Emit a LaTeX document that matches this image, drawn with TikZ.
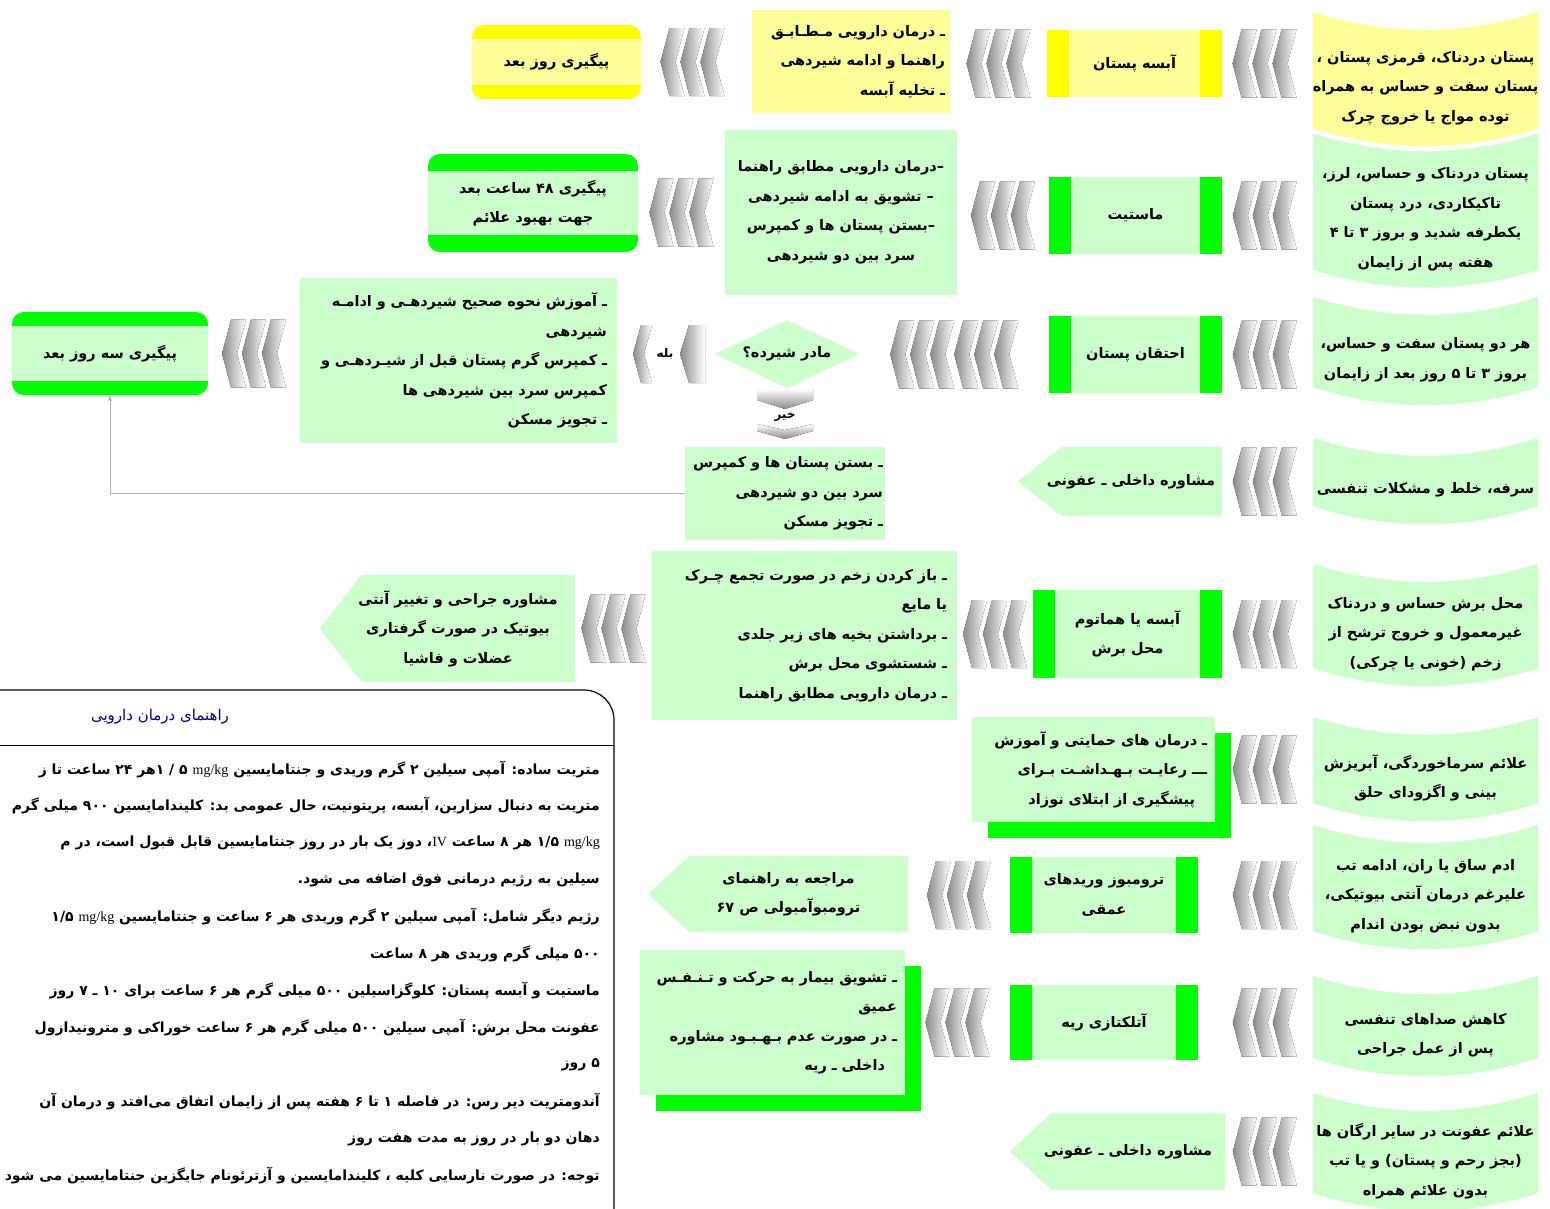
\documentclass[tikz,border=0pt]{standalone}
\usepackage{fontspec}
\usetikzlibrary{calc,shadows,backgrounds,shapes.geometric,arrows.meta}
\TeXXeTstate=1
\newfontfamily\arabicfont[Script=Arabic]{DejaVu Sans}
\newfontfamily\latinserif{Liberation Serif}
\newcommand\fa[1]{\mbox{\beginR #1\endR}}
\newcommand\lat[1]{{\latinserif\mdseries #1}}
\definecolor{paleyellow}{HTML}{FFFF99}
\definecolor{barYellow}{HTML}{FFFF00}
\definecolor{palegreen}{HTML}{CCFFCC}
\definecolor{barGreen}{HTML}{00FF00}
\definecolor{titleBlue}{HTML}{000080}
\definecolor{chevGray}{HTML}{8A8A8A}
% curved symptom banner behind a node: top edge sags, bottom edge bulges
\newcommand\tapefill[2]{\fill[#2] ($(#1.north west)+(0,-18)$) .. controls ($(#1.north west)!.667!(#1.north)+(0,6)$) and ($(#1.north east)!.667!(#1.north)+(0,6)$) .. ($(#1.north east)+(0,-18)$) -- ($(#1.south east)+(0,-18)$) .. controls ($(#1.south east)!.667!(#1.south)+(0,6)$) and ($(#1.south west)!.667!(#1.south)+(0,6)$) .. ($(#1.south west)+(0,-18)$) -- cycle;}
% left-pointing pentagon behind a node
\newcommand\pentleft[3]{\fill[#3] ($(#1.west)+(-#2,0)$) -- ($(#1.north west)+(#2,0)$) -- (#1.north east) -- (#1.south east) -- ($(#1.south west)+(#2,0)$) -- cycle;}
\tikzset{
  fatext/.style={font=\arabicfont\bfseries\fontsize{14.5}{29.5}\selectfont, text=black, inner sep=0pt},
  tapebox/.style={fatext, align=center, minimum width=225pt},
  barbox/.style 2 args={fatext, align=center, fill=#1, path picture={
      \fill[#2] (path picture bounding box.north west) rectangle ([xshift=22pt]path picture bounding box.south west);
      \fill[#2] ([xshift=-22pt]path picture bounding box.north east) rectangle (path picture bounding box.south east);}},
  bandbox/.style n args={3}{fatext, align=center, fill=#1, rounded corners=12pt, path picture={
      \fill[#2, sharp corners] (path picture bounding box.north west) rectangle ([yshift=-#3]path picture bounding box.north east);
      \fill[#2, sharp corners] ([yshift=#3]path picture bounding box.south west) rectangle (path picture bounding box.south east);}},
  notebox/.style={fatext, fill=#1, align=right},
  shadowbox/.style={notebox=palegreen, drop shadow={shadow xshift=16pt, shadow yshift=-16pt, fill=barGreen, opacity=1}},
  pentbox/.style={fatext, align=center},
  smalllabel/.style={font=\arabicfont\bfseries\fontsize{12}{14}\selectfont, inner sep=0pt},
  tline/.style={font=\arabicfont\bfseries\fontsize{14}{16}\selectfont, anchor=east, inner sep=0pt},
  chevs/.pic={\foreach \i in {0,1,2}{\fill[left color=chevGray,right color=white] ({-32+20*\i},0) -- ({-23+20*\i},-34) -- ({-8+20*\i},-34) -- ({-17+20*\i},0) -- ({-8+20*\i},34) -- ({-23+20*\i},34) -- cycle;}},
}
\begin{document}
\begin{tikzpicture}[x=1pt,y=-1pt]
\useasboundingbox (0,0) rectangle (1550,1208);

% symptom banners (right column)
\node[tapebox, minimum height=116pt] (s1) at (1425.5,88) {\fa{پستان دردناک، قرمزی پستان ،}\\\fa{پستان سفت و حساس به همراه}\\\fa{توده مواج یا خروج چرک}};
\node[tapebox, minimum height=136pt] (s2) at (1425.5,219.5) {\fa{پستان دردناک و حساس، لرز،}\\\fa{تاکیکاردی، درد پستان}\\\fa{یکطرفه شدید و بروز ۳ تا ۴}\\\fa{هفته پس از زایمان}};
\node[tapebox, minimum height=90pt] (s3) at (1425.5,360) {\fa{هر دو پستان سفت و حساس،}\\\fa{بروز ۳ تا ۵ روز بعد از زایمان}};
\node[tapebox, minimum height=68pt] (s4) at (1425.5,490) {\fa{سرفه، خلط و مشکلات تنفسی}};
\node[tapebox, minimum height=104pt] (s5) at (1425.5,634) {\fa{محل برش حساس و دردناک}\\\fa{غیرمعمول و خروج ترشح از}\\\fa{زخم (خونی یا چرکی)}};
\node[tapebox, minimum height=86pt] (s6) at (1425.5,778) {\fa{علائم سرماخوردگی، آبریزش}\\\fa{بینی و اگزودای حلق}};
\node[tapebox, minimum height=106pt] (s7) at (1425.5,896) {\fa{ادم ساق یا ران، ادامه تب}\\\fa{علیرغم درمان آنتی بیوتیکی،}\\\fa{بدون نبض بودن اندام}};
\node[tapebox, minimum height=82pt] (s8) at (1425.5,1035) {\fa{کاهش صداهای تنفسی}\\\fa{پس از عمل جراحی}};
\node[tapebox, minimum height=100pt] (s9) at (1425.5,1161) {\fa{علائم عفونت در سایر ارگان ها}\\\fa{(بجز رحم و پستان) و یا تب}\\\fa{بدون علائم همراه}};

% diagnoses
\node[barbox={paleyellow}{barYellow}, minimum width=175pt, minimum height=67pt] (d1) at (1134.5,63.5) {\fa{آبسه پستان}};
\node[barbox={palegreen}{barGreen}, minimum width=173pt, minimum height=77pt] (d2) at (1135.5,215.5) {\fa{ماستیت}};
\node[barbox={palegreen}{barGreen}, minimum width=173pt, minimum height=77pt] (d3) at (1135.5,354.5) {\fa{احتقان پستان}};
\node[pentbox, minimum width=182pt, minimum height=69pt] (d4) at (1131,481.5) {\fa{مشاوره داخلی ـ عفونی}};
\node[barbox={palegreen}{barGreen}, minimum width=189pt, minimum height=88pt] (d5) at (1127.5,634) {\fa{آبسه یا هماتوم}\\\fa{محل برش}};
\node[shadowbox, minimum width=243pt, minimum height=105pt, text width=227pt, inner xsep=8pt] (d6) at (1093.5,769.5) {\fa{ـ درمان های حمایتی و آموزش}\\\fa{ـــ رعایـت بـهـداشـت بـرای}\\\fa{پیشگیری از ابتلای نوزاد}\hspace*{12pt}};
\node[barbox={palegreen}{barGreen}, minimum width=188pt, minimum height=76pt] (d7) at (1104,895) {\fa{ترومبوز وریدهای}\\\fa{عمقی}};
\node[barbox={palegreen}{barGreen}, minimum width=188pt, minimum height=75pt] (d8) at (1104,1022.5) {\fa{آتلکتازی ریه}};
\node[pentbox, minimum width=194pt, minimum height=77pt] (d9) at (1128,1151.5) {\fa{مشاوره داخلی ـ عفونی}};

% treatments
\node[notebox=paleyellow, minimum width=198pt, minimum height=103pt, text width=188pt, inner xsep=5pt] (t1) at (851,61.5) {\fa{ـ درمان دارویی مـطـابـق}\\\fa{راهنما و ادامه شیردهی}\hspace*{12pt}\\\fa{ـ تخلیه آبسه}};
\node[notebox=palegreen, align=center, minimum width=232pt, minimum height=165pt] (t2) at (841,212.5) {\fa{–درمان دارویی مطابق راهنما}\\\fa{– تشویق به ادامه شیردهی}\\\fa{–بستن پستان ها و کمپرس}\\\fa{سرد بین دو شیردهی}};
\node[diamond, aspect=2.1, fill=palegreen, fatext, minimum width=145pt, minimum height=68pt] (q) at (787,354) {\fa{مادر شیرده؟}};
\node[notebox=palegreen, minimum width=317pt, minimum height=165pt, text width=297pt, inner xsep=10pt] (t3) at (458.5,360.5) {\fa{ـ آموزش نحوه صحیح شیردهـی و ادامـه}\\\fa{شیردهی}\hspace*{14pt}\\\fa{ـ کمپرس گرم پستان قبل از شیـردهـی و}\\\fa{کمپرس سرد بین شیردهی ها}\hspace*{14pt}\\\fa{ـ تجویز مسکن}};
\node[notebox=palegreen, minimum width=200pt, minimum height=93pt, text width=196pt, inner xsep=2pt] (tn) at (785,493.5) {\fa{ـ بستن پستان ها و کمپرس}\\\fa{سرد بین دو شیردهی}\hspace*{14pt}\\\fa{ـ تجویز مسکن}};
\node[notebox=palegreen, minimum width=305pt, minimum height=169pt, text width=285pt, inner xsep=10pt] (t5) at (804.5,635.5) {\fa{ـ باز کردن زخم در صورت تجمع چـرک}\\\fa{یا مایع}\hspace*{14pt}\\\fa{ـ برداشتن بخیه های زیر جلدی}\\\fa{ـ شستشوی محل برش}\\\fa{ـ درمان دارویی مطابق راهنما}};
\node[shadowbox, minimum width=265pt, minimum height=145pt, text width=249pt, inner xsep=8pt] (t8) at (772.5,1022.5) {\fa{ـ تشویق بیمار به حرکت و تـنـفـس}\\\fa{عمیق}\hspace*{12pt}\\\fa{ـ در صورت عدم بـهـبـود مشاوره}\\\fa{داخلی ـ ریه}\hspace*{12pt}};

% follow-up
\node[bandbox={paleyellow}{barYellow}{14pt}, minimum width=169pt, minimum height=74pt] (f1) at (556.5,62) {\fa{پیگیری روز بعد}};
\node[bandbox={palegreen}{barGreen}{17pt}, minimum width=210pt, minimum height=98pt] (f2) at (533,203) {\fa{پیگیری ۴۸ ساعت بعد}\\\fa{جهت بهبود علائم}};
\node[bandbox={palegreen}{barGreen}{14pt}, minimum width=196pt, minimum height=83pt] (f3) at (110,353.5) {\fa{پیگیری سه روز بعد}};
\node[pentbox, minimum width=234pt, minimum height=107pt] (f5) at (458,628.5) {\fa{مشاوره جراحی و تغییر آنتی}\\\fa{بیوتیک در صورت گرفتاری}\\\fa{عضلات و فاشیا}};
\node[pentbox, minimum width=239pt, minimum height=76pt] (f7) at (788.5,894) {\fa{مراجعه به راهنمای}\\\fa{ترومبوآمبولی ص ۶۷}};

% chevron connectors
\foreach \r in {1,...,9}{\pic at ($(s\r.west |- d\r.east)+(-48,0)$) {chevs};}
\pic at ($(d1.west)!.5!(d1.west -| t1.east)$) {chevs};
\pic at ($(t1.west |- f1.east)!.5!(f1.east)+(-4,0)$) {chevs};
\pic at ($(d2.west)!.5!(d2.west -| t2.east)$) {chevs};
\pic at ($(t2.west)!.5!(t2.west -| f2.east)$) {chevs};
\coordinate (m3) at ($(d3.west)!.5!(d3.west -| q.east)$);
\pic at ($(m3)+(-32,0)$) {chevs};
\pic at ($(m3)+(32,0)$) {chevs};
\pic at ($(f3.east)!.5!(f3.east -| t3.west)$) {chevs};
\pic at ($(d5.west)!.5!(d5.west -| t5.east)$) {chevs};
\pic at ($(t5.west |- f5.east)!.5!(f5.east)$) {chevs};
\pic at ($(d7.west)!.5!(d7.west -| f7.east)$) {chevs};
\pic at ($(d8.west)!.5!(d8.west -| t8.east)$) {chevs};

% yes branch (left of the decision)
\fill[left color=chevGray,right color=white] (633,354) -- (641,325) -- (652,325) -- (644,354) -- (652,383) -- (641,383) -- cycle;
\fill[left color=chevGray,right color=white] (680,354) -- (689,325) -- (705,325) -- (705,383) -- (689,383) -- cycle;
\node[smalllabel] (yes) at (665,354) {\fa{بله}};
% no branch (below the decision)
\fill[top color=white,bottom color=chevGray] (757,389) -- (813,389) -- (813,400) -- (785,409) -- (757,400) -- cycle;
\fill[top color=white,bottom color=chevGray] (757,424) -- (785,430) -- (813,424) -- (813,431) -- (785,439) -- (757,431) -- cycle;
\node[smalllabel] (no) at (785,417) {\fa{خیر}};

% return line to the three-day follow-up
\draw[draw=gray!60, line width=0.9pt, -{Stealth[length=6pt,width=4pt]}] (tn.west) -| (f3.south);

% drug guide panel
\draw[line width=1.2pt, rounded corners=30pt] (-30,690) -- (614,690) -- (614,1245) -- (-30,1245);
\draw[line width=1pt] (-30,745) -- (614,745);
\node[font=\arabicfont\mdseries\fontsize{15}{17}\selectfont, text=titleBlue, inner sep=0pt] (gt) at (160,717) {\fa{راهنمای درمان دارویی}};
\node[tline] (g1) at (600,770) {\fa{متریت ساده: آمپی سیلین ۲ گرم وریدی و جنتامایسین \lat{mg/kg} ۵ / ۱هر ۲۴ ساعت تا ز}};
\node[tline] (g2) at (600,806) {\fa{متریت به دنبال سزارین، آبسه، پریتونیت، حال عمومی بد: کلیندامایسین ۹۰۰ میلی گرم}};
\node[tline] (g3) at (600,843) {\fa{\lat{mg/kg} ۱/۵ هر ۸ ساعت \lat{IV}، دوز یک بار در روز جنتامایسین قابل قبول است، در م}};
\node[tline] (g4) at (600,880) {\fa{سیلین به رژیم درمانی فوق اضافه می شود.}};
\node[tline] (g5) at (600,917) {\fa{رژیم دیگر شامل: آمپی سیلین ۲ گرم وریدی هر ۶ ساعت و جنتامایسین \lat{mg/kg} ۱/۵}};
\node[tline] (g6) at (600,954) {\fa{۵۰۰ میلی گرم وریدی هر ۸ ساعت}};
\node[tline] (g7) at (600,991) {\fa{ماستیت و آبسه پستان: کلوگزاسیلین ۵۰۰ میلی گرم هر ۶ ساعت برای ۱۰ ـ ۷ روز}};
\node[tline] (g8) at (600,1028) {\fa{عفونت محل برش: آمپی سیلین ۵۰۰ میلی گرم هر ۶ ساعت خوراکی و مترونیدازول}};
\node[tline] (g9) at (600,1065) {\fa{۵ روز}};
\node[tline] (g10) at (600,1102) {\fa{آندومتریت دیر رس: در فاصله ۱ تا ۶ هفته پس از زایمان اتفاق می‌افتد و درمان آن}};
\node[tline] (g11) at (600,1139) {\fa{دهان دو بار در روز به مدت هفت روز}};
\node[tline] (g12) at (600,1176) {\fa{توجه: در صورت نارسایی کلیه ، کلیندامایسین و آزترئونام جایگزین جنتامایسین می شود}};

\begin{scope}[on background layer]
  \fill[white] (0,0) rectangle (1550,1208);
  \tapefill{s1}{paleyellow}
  \tapefill{s2}{palegreen}
  \tapefill{s3}{palegreen}
  \tapefill{s4}{palegreen}
  \tapefill{s5}{palegreen}
  \tapefill{s6}{palegreen}
  \tapefill{s7}{palegreen}
  \tapefill{s8}{palegreen}
  \tapefill{s9}{palegreen}
  \pentleft{d4}{22}{palegreen}
  \pentleft{d9}{21}{palegreen}
  \pentleft{f5}{21}{palegreen}
  \pentleft{f7}{21}{palegreen}
\end{scope}
\end{tikzpicture}
\end{document}
